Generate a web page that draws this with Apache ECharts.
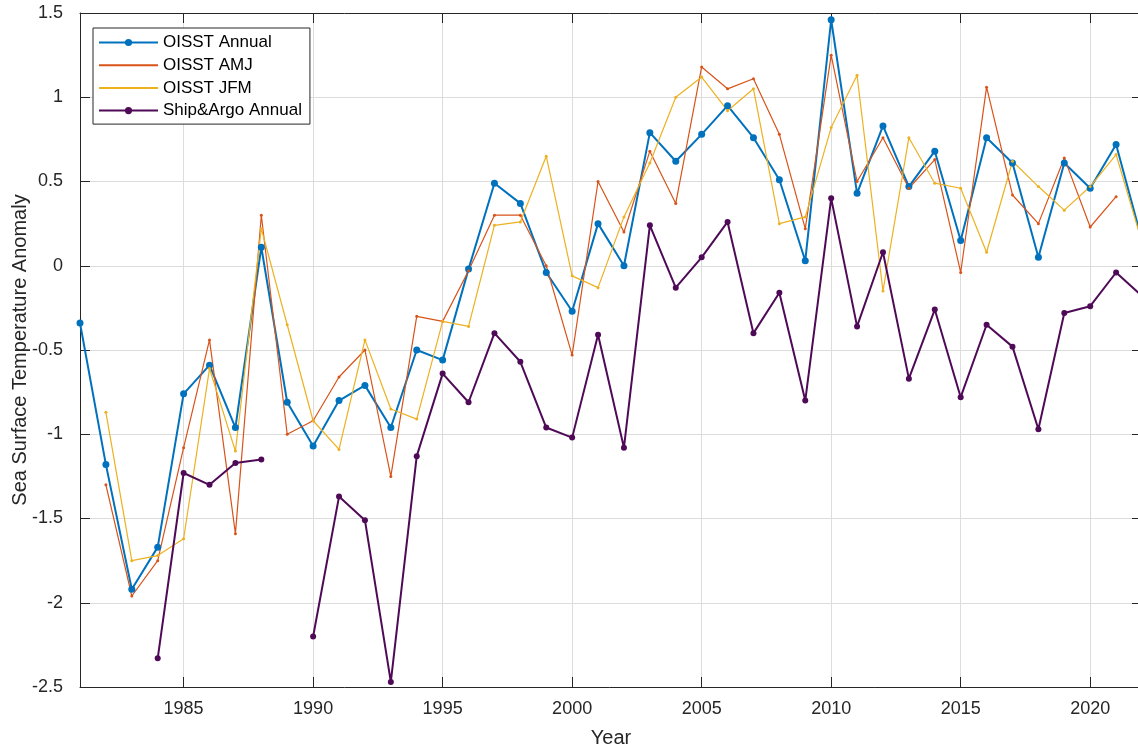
<!DOCTYPE html>
<html>
<head>
<meta charset="utf-8">
<script src="https://cdn.jsdelivr.net/npm/echarts@6/dist/echarts.min.js"></script>
<style>
html,body{margin:0;padding:0;background:#fff;}
#chart{width:1138px;height:749px;}
</style>
</head>
<body>
<div id="chart"></div>
<script>
const years = [1981,1982,1983,1984,1985,1986,1987,1988,1989,1990,1991,1992,1993,1994,1995,1996,1997,1998,1999,2000,2001,2002,2003,2004,2005,2006,2007,2008,2009,2010,2011,2012,2013,2014,2015,2016,2017,2018,2019,2020,2021,2022];
const oisstAnnual = [-0.34,-1.18,-1.92,-1.67,-0.76,-0.59,-0.96,0.11,-0.81,-1.07,-0.80,-0.71,-0.96,-0.50,-0.56,-0.02,0.49,0.37,-0.04,-0.27,0.25,0.00,0.79,0.62,0.78,0.95,0.76,0.51,0.03,1.46,0.43,0.83,0.47,0.68,0.15,0.76,0.61,0.05,0.61,0.46,0.72,0.15];
const oisstAMJ = [null,-1.30,-1.96,-1.75,-1.08,-0.44,-1.59,0.30,-1.00,-0.92,-0.66,-0.50,-1.25,-0.30,-0.33,-0.03,0.30,0.30,0.00,-0.53,0.50,0.20,0.68,0.37,1.18,1.05,1.11,0.78,0.22,1.25,0.50,0.76,0.46,0.63,-0.04,1.06,0.42,0.25,0.64,0.23,0.41,null];
const oisstJFM = [null,-0.87,-1.75,-1.72,-1.62,-0.61,-1.10,0.22,-0.35,-0.92,-1.09,-0.44,-0.85,-0.91,-0.33,-0.36,0.24,0.26,0.65,-0.06,-0.13,0.29,0.61,1.00,1.12,0.92,1.05,0.25,0.29,0.82,1.13,-0.15,0.76,0.49,0.46,0.08,0.62,0.47,0.33,0.47,0.66,0.14];
const shipArgo = [null,null,null,-2.33,-1.23,-1.30,-1.17,-1.15,null,-2.20,-1.37,-1.51,-2.47,-1.13,-0.64,-0.81,-0.40,-0.57,-0.96,-1.02,-0.41,-1.08,0.24,-0.13,0.05,0.26,-0.40,-0.16,-0.80,0.40,-0.36,0.08,-0.67,-0.26,-0.78,-0.35,-0.48,-0.97,-0.28,-0.24,-0.04,-0.18];
const xTicks = [1985,1990,1995,2000,2005,2010,2015,2020];
const seriesNames = ['OISST Annual','OISST AMJ','OISST JFM','Ship&Argo Annual'];

function pairs(vals){ return years.map((y,i)=>[y, vals[i]===null ? '-' : vals[i]]); }

const FONT = "'Liberation Sans', Arial, Helvetica, sans-serif";
const TXT = '#262626';
const chart = echarts.init(document.getElementById('chart'), null, {renderer:'canvas'});

const baseX = {
  type:'value', min:1981, max:2022,
  axisLine:{show:true, onZero:false, lineStyle:{color:TXT, width:1}},
  axisTick:{show:true, inside:true, length:10, customValues:xTicks, lineStyle:{color:TXT, width:1}},
  axisLabel:{show:true, customValues:xTicks, margin:13, color:TXT, fontSize:18, fontFamily:FONT,
    formatter:function(v){ return String(v); }},
  splitLine:{show:true, lineStyle:{color:'#dcdcdc', width:1}}
};
const baseY = {
  type:'value', min:-2.5, max:1.5, interval:0.5,
  axisLine:{show:true, onZero:false, lineStyle:{color:TXT, width:1}},
  axisTick:{show:true, inside:true, length:10, lineStyle:{color:TXT, width:1}},
  axisLabel:{show:true, margin:17, color:TXT, fontSize:18, fontFamily:FONT,
    formatter:function(v){ return String(v); }},
  splitLine:{show:true, lineStyle:{color:'#dcdcdc', width:1}}
};

chart.setOption({
  animation:false,
  backgroundColor:'#fff',
  grid:{left:80, top:13, right:-4, bottom:62, containLabel:false, outerBoundsMode:'none'},
  xAxis:[
    Object.assign({}, baseX, {position:'bottom', name:'Year', nameLocation:'middle', nameGap:41, nameMoveOverlap:false,
      nameTextStyle:{color:TXT, fontSize:20, fontFamily:FONT}}),
    Object.assign({}, baseX, {position:'top', axisLabel:{show:false, customValues:xTicks}, splitLine:{show:false}})
  ],
  yAxis:[
    Object.assign({}, baseY, {position:'left', name:'Sea Surface Temperature Anomaly', nameLocation:'middle', nameGap:50, nameMoveOverlap:false,
      nameTextStyle:{color:TXT, fontSize:20, fontFamily:FONT}}),
    Object.assign({}, baseY, {position:'right', axisLabel:{show:false}, splitLine:{show:false}})
  ],
  legend:{
    show:true, orient:'vertical', left:93, top:28,
    padding:[6,8,5,5], itemGap:5.7, itemWidth:59, itemHeight:9,
    borderColor:TXT, borderWidth:1, backgroundColor:'#fff',
    textStyle:{color:'#000', fontSize:17, fontFamily:FONT},
    data:[
      {name:seriesNames[0]},
      {name:seriesNames[1], itemStyle:{color:'rgba(0,0,0,0)', borderColor:'rgba(0,0,0,0)', borderWidth:0}},
      {name:seriesNames[2], itemStyle:{color:'rgba(0,0,0,0)', borderColor:'rgba(0,0,0,0)', borderWidth:0}},
      {name:seriesNames[3]}
    ]
  },
  series:[
    {name:seriesNames[0], type:'line', data:pairs(oisstAnnual), symbol:'circle', symbolSize:7,
      lineStyle:{color:'#0072BD', width:2}, itemStyle:{color:'#0072BD'}, connectNulls:false},
    {name:seriesNames[1], type:'line', data:pairs(oisstAMJ), symbol:'circle', symbolSize:3,
      lineStyle:{color:'#D95319', width:1.2}, itemStyle:{color:'#D95319'}, connectNulls:false},
    {name:seriesNames[2], type:'line', data:pairs(oisstJFM), symbol:'circle', symbolSize:3,
      lineStyle:{color:'#EDB120', width:1.2}, itemStyle:{color:'#EDB120'}, connectNulls:false},
    {name:seriesNames[3], type:'line', data:pairs(shipArgo), symbol:'circle', symbolSize:6,
      lineStyle:{color:'#4F0A57', width:2}, itemStyle:{color:'#4F0A57'}, connectNulls:false}
  ]
});
</script>
</body>
</html>
